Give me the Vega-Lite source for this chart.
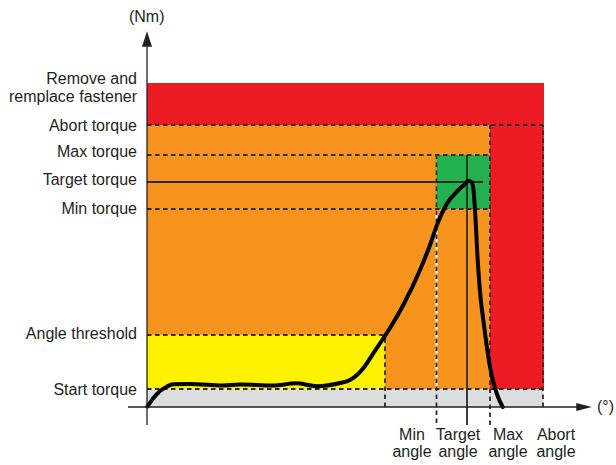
{
  "$schema": "https://vega.github.io/schema/vega-lite/v6.json",
  "width": 469,
  "height": 407,
  "autosize": {"type": "none"},
  "padding": {"left": 147, "top": 0, "right": 0, "bottom": 58},
  "background": "white",
  "config": {"view": {"stroke": null}},
  "datasets": {
    "zones": [
      {"zone": "Start", "a0": 0, "a1": 396, "t0": 0, "t1": 18},
      {"zone": "Monitor", "a0": 0, "a1": 343, "t0": 18, "t1": 282},
      {"zone": "Reject", "a0": 0, "a1": 397, "t0": 282, "t1": 324},
      {"zone": "Reject", "a0": 343, "a1": 397, "t0": 18, "t1": 291},
      {"zone": "Threshold", "a0": 0, "a1": 238, "t0": 18, "t1": 72},
      {"zone": "OK", "a0": 289.5, "a1": 343, "t0": 198, "t1": 252}
    ],
    "guides": [
      {"name": "Min angle underlay", "kind": "white", "a0": 289.5, "a1": 289.5, "t0": 18, "t1": 198},
      {"name": "Abort torque", "kind": "dashed", "a0": 0, "a1": 396, "t0": 282, "t1": 282},
      {"name": "Max torque", "kind": "dashed", "a0": 0, "a1": 343, "t0": 252, "t1": 252},
      {"name": "Target torque", "kind": "solid", "a0": 0, "a1": 336, "t0": 225, "t1": 225},
      {"name": "Min torque", "kind": "dashed", "a0": 0, "a1": 343, "t0": 198, "t1": 198},
      {"name": "Angle threshold", "kind": "dashed", "a0": 0, "a1": 238, "t0": 72, "t1": 72},
      {"name": "Start torque", "kind": "dashed", "a0": 0, "a1": 396, "t0": 18, "t1": 18},
      {"name": "Angle threshold angle", "kind": "dashed", "a0": 238, "a1": 238, "t0": 0, "t1": 72},
      {"name": "Min angle", "kind": "dashed", "a0": 289.5, "a1": 289.5, "t0": -16, "t1": 252},
      {"name": "Target angle", "kind": "solid", "a0": 320, "a1": 320, "t0": -18, "t1": 252},
      {"name": "Max angle", "kind": "dashed", "a0": 343, "a1": 343, "t0": -18, "t1": 282},
      {"name": "Abort angle", "kind": "dashed", "a0": 396, "a1": 396, "t0": 0, "t1": 282}
    ],
    "axes": [
      {"a0": -19, "a1": 432, "t0": 0, "t1": 0},
      {"a0": 0, "a1": 0, "t0": -18, "t1": 362}
    ],
    "arrows": [
      {"dir": "up", "a": 0, "t": 368},
      {"dir": "right", "a": 437, "t": 0}
    ],
    "curve": [
      {"a": 0.3, "t": 0.3},
      {"a": 6.3, "t": 8.7},
      {"a": 13, "t": 16},
      {"a": 19.7, "t": 20.3},
      {"a": 26.3, "t": 22.7},
      {"a": 43, "t": 23},
      {"a": 76, "t": 21.5},
      {"a": 93, "t": 22.5},
      {"a": 126, "t": 21.5},
      {"a": 149, "t": 23.7},
      {"a": 170, "t": 20.8},
      {"a": 193, "t": 24},
      {"a": 203, "t": 27},
      {"a": 210, "t": 32},
      {"a": 218, "t": 41},
      {"a": 226.3, "t": 53.7},
      {"a": 239.7, "t": 73.7},
      {"a": 256.3, "t": 102},
      {"a": 273, "t": 137},
      {"a": 283, "t": 162},
      {"a": 290, "t": 182},
      {"a": 299.7, "t": 203},
      {"a": 311, "t": 216.5},
      {"a": 318, "t": 223},
      {"a": 321.3, "t": 226.3},
      {"a": 324.5, "t": 225},
      {"a": 326.5, "t": 217},
      {"a": 328, "t": 197},
      {"a": 330.7, "t": 147},
      {"a": 333.5, "t": 110},
      {"a": 336.3, "t": 87},
      {"a": 343, "t": 40},
      {"a": 349.7, "t": 13.7},
      {"a": 355.7, "t": 0}
    ],
    "leftLabels": [
      {"text": "Remove and\nremplace fastener", "a": -10, "t": 323},
      {"text": "Abort torque", "a": -10, "t": 276.3},
      {"text": "Max torque", "a": -10, "t": 250.5},
      {"text": "Target torque", "a": -10, "t": 222.5},
      {"text": "Min torque", "a": -10, "t": 193},
      {"text": "Angle threshold", "a": -10, "t": 68},
      {"text": "Start torque", "a": -10, "t": 12}
    ],
    "bottomLabels": [
      {"text": "Min\nangle", "a": 265, "t": -33},
      {"text": "Target\nangle", "a": 311, "t": -33},
      {"text": "Max\nangle", "a": 361, "t": -33},
      {"text": "Abort\nangle", "a": 409, "t": -33}
    ],
    "units": [
      {"text": "(Nm)", "a": -0.3, "t": 385.4},
      {"text": "(°)", "a": 458.5, "t": -4.7}
    ]
  },
  "layer": [
    {
      "data": {"name": "zones"},
      "mark": {"type": "rect"},
      "encoding": {
        "x": {"field": "a0", "type": "quantitative", "scale": {"domain": [0, 469], "nice": false, "zero": false}, "axis": null},
        "x2": {"field": "a1"},
        "y": {"field": "t0", "type": "quantitative", "scale": {"domain": [0, 407], "nice": false, "zero": false}, "axis": null},
        "y2": {"field": "t1"},
        "color": {"field": "zone", "type": "nominal", "legend": null,
          "scale": {"domain": ["Start", "Monitor", "Reject", "Threshold", "OK"], "range": ["#DCDDDE", "#F7941D", "#ED1C24", "#FFF200", "#22B14C"]}}
      }
    },
    {
      "data": {"name": "guides"},
      "mark": {"type": "rule", "strokeWidth": 1.8},
      "encoding": {
        "x": {"field": "a0", "type": "quantitative", "axis": null},
        "x2": {"field": "a1"},
        "y": {"field": "t0", "type": "quantitative", "axis": null},
        "y2": {"field": "t1"},
        "stroke": {"field": "kind", "type": "nominal", "legend": null,
          "scale": {"domain": ["dashed", "solid", "white"], "range": ["#2B2B2B", "#2B2B2B", "#FFFFFF"]}},
        "strokeDash": {"field": "kind", "type": "nominal", "legend": null,
          "scale": {"domain": ["dashed", "solid", "white"], "range": [[4.5, 3.5], [1, 0], [1, 0]]}}
      }
    },
    {
      "data": {"name": "curve"},
      "mark": {"type": "line", "color": "#000000", "strokeWidth": 4, "interpolate": "monotone", "strokeCap": "round", "strokeJoin": "round"},
      "encoding": {
        "x": {"field": "a", "type": "quantitative", "axis": null},
        "y": {"field": "t", "type": "quantitative", "axis": null}
      }
    },
    {
      "data": {"name": "axes"},
      "mark": {"type": "rule", "color": "#231F20", "strokeWidth": 1.3},
      "encoding": {
        "x": {"field": "a0", "type": "quantitative", "axis": null},
        "x2": {"field": "a1"},
        "y": {"field": "t0", "type": "quantitative", "axis": null},
        "y2": {"field": "t1"}
      }
    },
    {
      "data": {"name": "arrows"},
      "mark": {"type": "point", "filled": true, "color": "#231F20", "size": 240, "opacity": 1},
      "encoding": {
        "x": {"field": "a", "type": "quantitative", "axis": null},
        "y": {"field": "t", "type": "quantitative", "axis": null},
        "shape": {"field": "dir", "type": "nominal", "legend": null,
          "scale": {"domain": ["up", "right"], "range": ["M0,-1L0.65,1L-0.65,1Z", "M1,0L-1,0.52L-1,-0.52Z"]}}
      }
    },
    {
      "data": {"name": "leftLabels"},
      "mark": {"type": "text", "align": "right", "baseline": "alphabetic", "font": "Liberation Sans", "fontSize": 16, "color": "#231F20", "lineBreak": "\n", "lineHeight": 18},
      "encoding": {
        "x": {"field": "a", "type": "quantitative", "axis": null},
        "y": {"field": "t", "type": "quantitative", "axis": null},
        "text": {"field": "text"}
      }
    },
    {
      "data": {"name": "bottomLabels"},
      "mark": {"type": "text", "align": "center", "baseline": "alphabetic", "font": "Liberation Sans", "fontSize": 16, "color": "#231F20", "lineBreak": "\n", "lineHeight": 17},
      "encoding": {
        "x": {"field": "a", "type": "quantitative", "axis": null},
        "y": {"field": "t", "type": "quantitative", "axis": null},
        "text": {"field": "text"}
      }
    },
    {
      "data": {"name": "units"},
      "mark": {"type": "text", "align": "center", "baseline": "alphabetic", "font": "Liberation Sans", "fontSize": 16, "color": "#231F20"},
      "encoding": {
        "x": {"field": "a", "type": "quantitative", "axis": null},
        "y": {"field": "t", "type": "quantitative", "axis": null},
        "text": {"field": "text"}
      }
    }
  ]
}
